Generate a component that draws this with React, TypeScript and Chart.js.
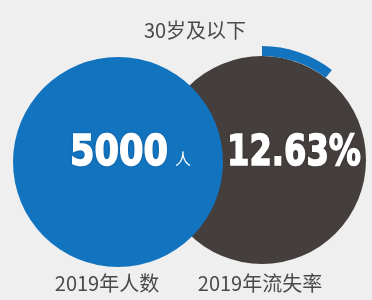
import React, { useEffect, useRef } from "react";
import { Chart, registerables } from "chart.js";
Chart.register(...registerables);

// ---- data ----
const title = "30岁及以下";
const categories = ["2019年人数", "2019年流失率"];
const headcount = [5000];
const headcountUnit = "人";
const lossRate = [12.63];
const lossArc = [10.5, 89.5]; // outer arc share as drawn in the picture

// ---- style ----
const BLUE = "#1273bf";
const GRAY = "#443e3c";
const BG = "#efefef";
const TEXT = "#4a4a4a";
const NUM_FONT = '"DejaVu Sans", sans-serif';
const CJK_FONT = '"Noto Sans CJK SC", "Noto Sans", sans-serif';

const BLUE_SIZE = 216;
const GRAY_SIZE = 232;

function drawBig(ctx: CanvasRenderingContext2D, text: string, x: number, y: number, maxW: number) {
  (ctx as any).fontStretch = "condensed";
  ctx.font = `bold 42px ${NUM_FONT}`;
  ctx.shadowColor = "rgba(0,0,0,0.35)";
  ctx.shadowBlur = 3;
  ctx.fillText(text, x, y, maxW);
  ctx.shadowBlur = 0;
  ctx.shadowColor = "transparent";
  ctx.lineWidth = 1.6;
  ctx.strokeStyle = "#ffffff";
  ctx.strokeText(text, x, y, maxW);
}

export default function App() {
  const blueRef = useRef<HTMLCanvasElement>(null);
  const grayRef = useRef<HTMLCanvasElement>(null);

  useEffect(() => {
    const blueText = {
      id: "blueText",
      afterDraw(chart: any) {
        const el = chart.getDatasetMeta(0).data[0];
        if (!el) return;
        const ctx = chart.ctx;
        ctx.save();
        ctx.fillStyle = "#ffffff";
        ctx.textBaseline = "alphabetic";
        ctx.textAlign = "left";
        drawBig(ctx, String(headcount[0]), el.x - 48, el.y + 3, 98);
        (ctx as any).fontStretch = "normal";
        ctx.font = `16px ${CJK_FONT}`;
        ctx.fillText(headcountUnit, el.x + 57, el.y + 3);
        ctx.restore();
      },
    };
    const grayText = {
      id: "grayText",
      afterDraw(chart: any) {
        const el = chart.getDatasetMeta(1).data[0];
        if (!el) return;
        const ctx = chart.ctx;
        ctx.save();
        ctx.fillStyle = "#ffffff";
        ctx.textBaseline = "alphabetic";
        ctx.textAlign = "left";
        drawBig(ctx, lossRate[0].toFixed(2) + "%", el.x - 35, el.y + 5, 134);
        ctx.restore();
      },
    };

    const common = {
      responsive: false,
      animation: false as const,
      events: [] as any[],
      plugins: { legend: { display: false }, tooltip: { enabled: false }, title: { display: false } },
      layout: { padding: 0 },
    };

    const gray = new Chart(grayRef.current!, {
      type: "doughnut",
      data: {
        labels: [categories[1], ""],
        datasets: [
          { data: lossArc, backgroundColor: [BLUE, "rgba(0,0,0,0)"], borderWidth: 0, weight: 10 } as any,
          { data: [100], backgroundColor: [GRAY], borderWidth: 0, weight: 104 } as any,
        ],
      },
      options: { ...common, cutout: 0, radius: 114 } as any,
      plugins: [grayText],
    });

    const blue = new Chart(blueRef.current!, {
      type: "pie",
      data: {
        labels: [categories[0]],
        datasets: [{ data: headcount, backgroundColor: [BLUE], borderWidth: 0 }],
      },
      options: { ...common, radius: 105 } as any,
      plugins: [blueText],
    });

    return () => {
      gray.destroy();
      blue.destroy();
    };
  }, []);

  const label = (text: string, cx: number, cy: number, size: number) => (
    <div
      style={{
        position: "absolute",
        left: cx - 100,
        top: cy - size * 0.75,
        width: 200,
        textAlign: "center",
        fontFamily: CJK_FONT,
        fontSize: size,
        lineHeight: `${size * 1.5}px`,
        color: TEXT,
        whiteSpace: "nowrap",
      }}
    >
      {text}
    </div>
  );

  return (
    <div
      style={{
        position: "absolute",
        left: 0,
        top: 0,
        width: 372,
        height: 300,
        overflow: "hidden",
        background: BG,
      }}
    >
      <canvas
        ref={grayRef}
        width={GRAY_SIZE}
        height={GRAY_SIZE}
        style={{ position: "absolute", left: 262 - GRAY_SIZE / 2, top: 160 - GRAY_SIZE / 2, width: GRAY_SIZE, height: GRAY_SIZE }}
      />
      <canvas
        ref={blueRef}
        width={BLUE_SIZE}
        height={BLUE_SIZE}
        style={{ position: "absolute", left: 118 - BLUE_SIZE / 2, top: 162 - BLUE_SIZE / 2, width: BLUE_SIZE, height: BLUE_SIZE }}
      />
      {label(title, 195, 30, 20)}
      {label(categories[0], 107, 283, 20)}
      {label(categories[1], 260, 283, 20)}
    </div>
  );
}
